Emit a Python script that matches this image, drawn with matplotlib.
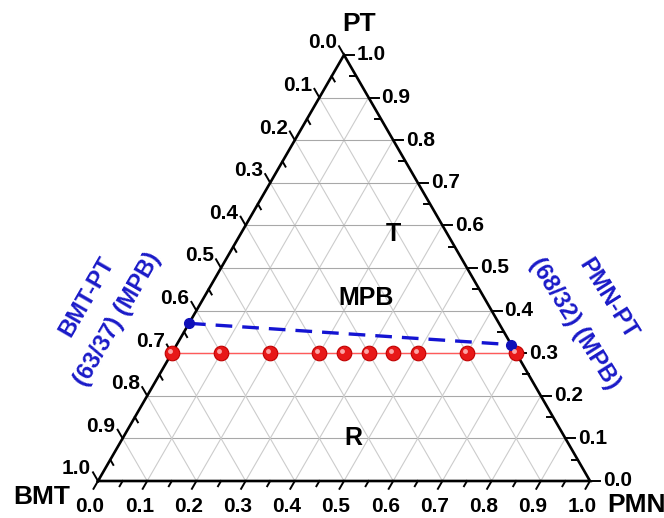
import numpy as np
import matplotlib
matplotlib.use('Agg')
import matplotlib.pyplot as plt
import matplotlib.transforms as mtransforms

plt.rcParams['font.family'] = ['Liberation Sans', 'DejaVu Sans']
plt.rcParams['font.weight'] = 'bold'

# measured compositions (PT fixed at 0.30)
pmn_samples = [0.0, 0.1, 0.2, 0.3, 0.35, 0.4, 0.45, 0.5, 0.6, 0.7]
pt_samples = [0.3, 0.3, 0.3, 0.3, 0.3, 0.3, 0.3, 0.3, 0.3, 0.3]

# MPB line: BMT-PT (63/37) -> PMN-PT (68/32)
mpb_pmn = [0.0, 0.68]
mpb_pt = [0.37, 0.32]

# axis ticks
major = [0.0, 0.1, 0.2, 0.3, 0.4, 0.5, 0.6, 0.7, 0.8, 0.9, 1.0]
tick_labels = ['0.0', '0.1', '0.2', '0.3', '0.4', '0.5', '0.6', '0.7', '0.8', '0.9', '1.0']
minor = [0.05, 0.15, 0.25, 0.35, 0.45, 0.55, 0.65, 0.75, 0.85, 0.95]

# phase region labels (PMN, PT)
region_labels = ['T', 'MPB', 'R']
region_pmn = [0.31, 0.33, 0.47]
region_pt = [0.58, 0.43, 0.10]

H = np.sqrt(3) / 2
PX = 1 / 492.0   # data units per pixel


def to_xy(pmn, pt):
    pmn = np.asarray(pmn, float)
    pt = np.asarray(pt, float)
    return pmn + pt / 2, pt * H


fig = plt.figure(figsize=(6.64, 5.18), dpi=100)
ax = fig.add_axes([0, 0, 1, 1])
ax.set_xlim(-98 * PX, 566 * PX)
ax.set_ylim(-37 * PX, 481 * PX)
ax.axis('off')

# grid
for v in major[1:-1]:
    x, y = to_xy([0, 1 - v], [v, v])
    ax.plot(x, y, color='#a8a8a8', lw=0.8, zorder=1)
    x, y = to_xy([v, v], [0, 1 - v])
    ax.plot(x, y, color='#cccccc', lw=0.8, zorder=1)
    x, y = to_xy([1 - v, 0], [0, 1 - v])
    ax.plot(x, y, color='#cccccc', lw=0.8, zorder=1)

# frame
x, y = to_xy([0, 1, 0, 0], [0, 0, 1, 0])
ax.plot(x, y, color='black', lw=1.9, zorder=4, solid_joinstyle='miter')

tk = dict(color='black', lw=1.4, zorder=4)
lab = dict(fontsize=15, fontweight='bold')

# bottom axis (PMN)
d = np.array([-0.5, -H])
for t, s in zip(major, tick_labels):
    x0, y0 = to_xy(t, 0)
    ax.plot([x0, x0 + d[0] * 9 * PX], [y0, y0 + d[1] * 9 * PX], **tk)
    ax.text(x0 - 8 * PX, y0 - 26 * PX, s, ha='center', va='center', **lab)
for t in minor:
    x0, y0 = to_xy(t, 0)
    ax.plot([x0, x0 + d[0] * 6 * PX], [y0, y0 + d[1] * 6 * PX], **tk)

# right axis (PT)
for t, s in zip(major, tick_labels):
    x0, y0 = to_xy(1 - t, t)
    ax.plot([x0, x0 + 10 * PX], [y0, y0], **tk)
    ax.text(x0 + 13 * PX, y0, s, ha='left', va='center', **lab)
for t in minor:
    x0, y0 = to_xy(1 - t, t)
    ax.plot([x0, x0 - 6 * PX], [y0, y0], **tk)

# left axis (BMT)
d = np.array([-0.5, H])
for t, s in zip(major, tick_labels):
    x0, y0 = to_xy(0, 1 - t)
    ax.plot([x0, x0 + d[0] * 10 * PX], [y0, y0 + d[1] * 10 * PX], **tk)
    ax.text(x0 - 7 * PX, y0 + 12 * PX, s, ha='right', va='center', **lab)
for t in minor:
    x0, y0 = to_xy(0, 1 - t)
    ax.plot([x0, x0 - d[0] * 6 * PX], [y0, y0 - d[1] * 6 * PX], **tk)

# axis titles
ax.text(0.5315, 0.928, 'PT', ha='center', va='center', fontsize=19)
ax.text(-0.114, -0.0325, 'BMT', ha='center', va='center', fontsize=19)
ax.text(1.0346, -0.0488, 'PMN', ha='left', va='center', fontsize=19)

# measured samples
sx, sy = to_xy(pmn_samples, pt_samples)
ax.plot(sx, sy, color='#ff5a5a', lw=1.0, zorder=5)
ax.plot(sx, sy, 'o', ms=10.5, mfc='#e81818', mec='#c00000', mew=0.8, zorder=6)
hl = mtransforms.offset_copy(ax.transData, fig=fig, x=-1.6, y=1.6, units='points')
ax.plot(sx, sy, 'o', ms=3.5, mfc='#ffb4b4', mec='none', alpha=0.9, zorder=7, transform=hl)

# MPB line
bx, by = to_xy(mpb_pmn, mpb_pt)
ax.plot(bx, by, color='#1414d2', lw=2.4, dashes=(5, 3), zorder=5)
ax.plot(bx, by, 'o', ms=7, color='#1010b8', zorder=6)

# region labels
rx, ry = to_xy(region_pmn, region_pt)
for s, x0, y0 in zip(region_labels, rx, ry):
    ax.text(x0, y0, s, ha='center', va='center', fontsize=18, zorder=8)

# end member annotations
blue = '#1a1ac8'
ax.text(-0.023, 0.3746, 'BMT-PT', color=blue, fontsize=17, rotation=60,
        ha='center', va='center', rotation_mode='anchor')
ax.text(0.0396, 0.329, '(63/37) (MPB)', color=blue, fontsize=17, rotation=60,
        ha='center', va='center', rotation_mode='anchor')
ax.text(1.0356, 0.370, 'PMN-PT', color=blue, fontsize=17, rotation=-58,
        ha='center', va='center', rotation_mode='anchor')
ax.text(0.9695, 0.319, '(68/32) (MPB)', color=blue, fontsize=17, rotation=-58,
        ha='center', va='center', rotation_mode='anchor')

fig.savefig('out.png', dpi=100)
